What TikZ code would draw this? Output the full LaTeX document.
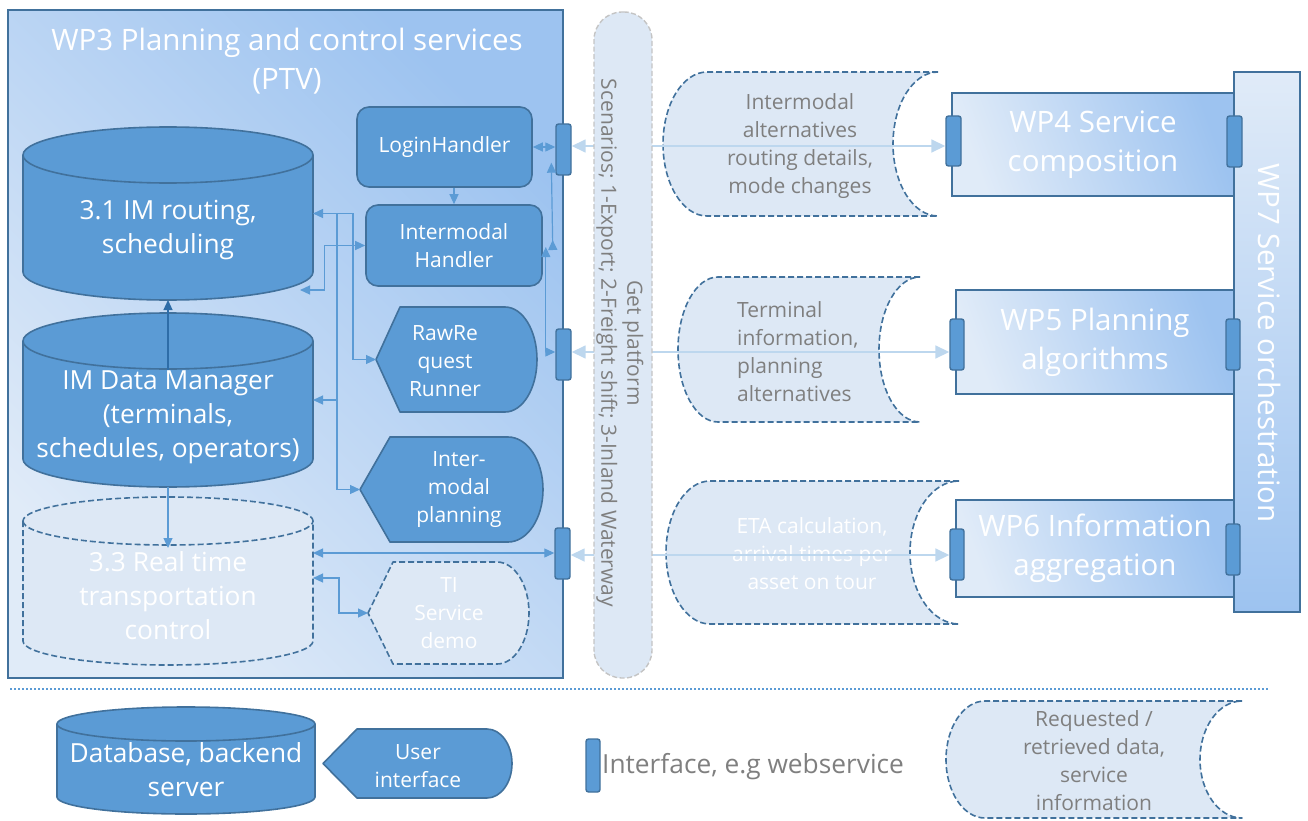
\documentclass[tikz,border=0pt]{standalone}
\usepackage{fontspec}
\setmainfont{Open Sans}
\usetikzlibrary{arrows.meta,calc}

\definecolor{edge}{HTML}{41719C}
\definecolor{body}{HTML}{5B9BD5}
\definecolor{pale}{HTML}{DDE8F5}
\definecolor{wirecol}{HTML}{5B9BD5}
\definecolor{deepwire}{HTML}{2E6DA8}
\definecolor{faint}{HTML}{BDD7EE}
\definecolor{ink}{HTML}{7F7F7F}
\definecolor{gradlo}{HTML}{E0EBF8}
\definecolor{gradhi}{HTML}{9DC3F0}
\definecolor{rim}{HTML}{C4C4C4}

\tikzset{
  anchorbox/.style={rectangle, inner sep=0pt, outer sep=0pt, draw=none},
  solidshape/.style={fill=body, draw=edge, line width=1.6pt, line join=round},
  dashshape/.style={fill=pale, draw=edge, line width=1.6pt, dash pattern=on 6pt off 3pt, line join=round},
  solidbox/.style={rectangle, fill=body, draw=edge, line width=1.6pt, rounded corners=12pt,
    text=white, align=center, inner sep=0pt, tx20},
  port/.style={rectangle, rounded corners=2.5pt, fill=body, draw=edge, line width=1.4pt,
    inner sep=0pt, minimum width=15pt, minimum height=51pt},
  wpbox/.style={rectangle, draw=edge, line width=1.6pt, inner sep=0pt, text=white, align=center, tx28},
  wire/.style={draw=wirecol, line width=1.2pt},
  faintwire/.style={draw=faint, line width=1.6pt,
    >={Triangle[length=14pt,width=13pt]}},
  whitetext/.style={text=white, align=center, inner sep=0pt},
  greytext/.style={text=ink, align=center, inner sep=0pt},
  tx20/.style={font=\fontsize{21}{28}\selectfont},
  tx25/.style={font=\fontsize{26.3}{34}\selectfont},
  tx28/.style={font=\fontsize{29.5}{39}\selectfont},
}

% cylinder: style, left x, x radius, top centre y, bottom centre y, y radius
\newcommand\cylpath[6]{%
  \path[#1] (#2,#4) -- (#2,#5) arc[start angle=180,end angle=360,x radius=#3pt,y radius=#6pt]
    -- ++(0,{#4-#5}) arc[start angle=0,end angle=180,x radius=#3pt,y radius=#6pt] -- cycle;
  \path[#1,fill=none] (#2,#4) arc[start angle=180,end angle=360,x radius=#3pt,y radius=#6pt];}

% display shape: style, tip x, corner x, arc x, top y, bottom y, x radius, y radius
\newcommand\dispath[8]{%
  \path[#1] (#2,{(#5+#6)/2}) -- (#3,#5) -- (#4,#5)
    arc[start angle=90,end angle=-90,x radius=#7pt,y radius=#8pt] -- (#3,#6) -- cycle;}

% stored data: style, left arc x, right end x, top y, bottom y, left rx, right rx, ry
\newcommand\storepath[8]{%
  \path[#1] (#3,#4) -- (#2,#4) arc[start angle=90,end angle=270,x radius=#6pt,y radius=#8pt]
    -- (#3,#5) arc[start angle=270,end angle=90,x radius=#7pt,y radius=#8pt] -- cycle;}

\begin{document}
\begin{tikzpicture}[x=1pt,y=-1pt,>={Triangle[length=10pt,width=9pt]}]
\useasboundingbox (0,0) rectangle (1308,821);

% ---------- WP3 frame ----------
\node[anchorbox, draw=edge, line width=1.8pt, minimum width=555pt, minimum height=668pt,
  left color=gradlo, right color=gradhi, shading angle=135] (wp3) at (285.5,344) {};
\node[whitetext, tx28] (wp3title) at (287,61) {WP3 Planning and control services\\(PTV)};

% ---------- databases ----------
\cylpath{solidshape}{23}{145}{155}{272}{28}
\node[anchorbox, minimum width=290pt, minimum height=173pt] (routing) at (168,213.5) {};
\node[whitetext, tx25] (routingtext) at (168,230) {3.1 IM routing,\\scheduling};

\cylpath{solidshape}{23}{145}{341}{459}{28}
\node[anchorbox, minimum width=290pt, minimum height=174pt] (datamgr) at (168,400) {};
\node[whitetext, tx25] (datamgrtext) at (168,417) {IM Data Manager\\(terminals,\\schedules, operators)};

\cylpath{dashshape}{23}{145}{521}{641}{24}
\node[anchorbox, minimum width=290pt, minimum height=172pt] (realtime) at (168,579) {};
\node[whitetext, tx25] (realtimetext) at (168,596) {3.3 Real time\\transportation\\control};

% ---------- handlers ----------
\node[solidbox, minimum width=175pt, minimum height=80pt] (login) at (444.5,147) {LoginHandler};
\node[solidbox, minimum width=176pt, minimum height=81pt] (imh) at (454,245.5) {Intermodal\\Handler};

\dispath{solidshape}{376}{400}{505}{307}{412}{32}{52.5}
\node[anchorbox, minimum width=161pt, minimum height=105pt] (raw) at (456.5,359.5) {};
\node[whitetext, tx20] (rawtext) at (445,361) {RawRe\\quest\\Runner};

\dispath{solidshape}{360}{390}{508}{437}{542}{35}{52.5}
\node[anchorbox, minimum width=183pt, minimum height=105pt] (plan) at (451.5,489.5) {};
\node[whitetext, tx20] (plantext) at (459,490) {Inter-\\modal\\planning};

\dispath{dashshape}{368}{393}{497}{562}{664}{32}{51}
\node[anchorbox, minimum width=161pt, minimum height=102pt] (ti) at (448.5,613) {};
\node[whitetext, tx20] (titext) at (449,613) {TI\\Service\\demo};

% ---------- interfaces of WP3 ----------
\node[port] (pA) at (563.5,149.5) {};
\node[port] (pB) at (563.5,354.5) {};
\node[port] (pC) at (562.5,553.5) {};

% ---------- internal connectors ----------
\draw[wire,<->] (login.east) -- (login.east -| pA.west);
\draw[wire,{Triangle[reversed,length=10pt,width=9pt]}->]
  ($(imh.east)+(10,4.5)$) -- ($(pA.south west)+(-4,-13)$);
\draw[wire,<->] ($(imh.east)+(3,1.5)$) |- ($(pB.west)+(0,-2.5)$);
\draw[wire,<->] (routing.east) -- ++(40,0) |- (raw.west);
\draw[wire,->] ($(routing.east)+(24,0)$) |- (plan.west);
\draw[wire,->] ($(datamgr.east)+(24,0)$) -- (datamgr.east);
\draw[wire,<->] ($(routing.south east)+(-13,-10)$) -| ($(imh.west)+(-41,0)$) -- (imh.west);
\draw[wire,<->] ($(realtime.east)+(0,-26)$) -- ($(pC.west)+(0,-0.5)$);
\draw[wire,<->] ($(realtime.east)+(0,-1)$) -| ($(ti.west)+(-29,0)$) -- (ti.west);
\draw[wire,draw=deepwire,->] ($(datamgr.north)+(0,57)$) -- (routing.south);
\draw[wire,->] (datamgr.south) -- ($(realtime.north)+(0,55)$);
\draw[wire,->] (imh.north |- login.south) -- (imh.north);

% ---------- exchanged data ----------
\storepath{dashshape}{707}{938}{72}{216}{44}{45}{72}
\node[greytext, tx20] (flowA) at (800,146) {Intermodal\\alternatives\\routing details,\\mode changes};
\storepath{dashshape}{718}{920}{277}{422}{40}{41}{72.5}
\node[greytext, tx20, align=left, anchor=west] (flowB) at (737,352) {Terminal\\information,\\planning\\alternatives};
\storepath{dashshape}{710}{959}{481}{624}{44}{49}{71.5}
\node[whitetext, tx20] (flowC) at (812,554) {ETA calculation,\\arrival times per\\asset on tour};

% ---------- work packages ----------
\node[wpbox, top color=gradlo, bottom color=gradhi, minimum width=66pt, minimum height=540pt] (wp7) at (1267,342) {};
\node[whitetext, tx28, rotate=-90] (wp7text) at (1270,343) {WP7 Service orchestration};
\node[wpbox, left color=gradlo, right color=gradhi, shading angle=110, minimum width=282pt, minimum height=103pt] (wp4) at (1093,144.5) {WP4 Service\\composition};
\node[wpbox, left color=gradlo, right color=gradhi, shading angle=110, minimum width=278pt, minimum height=104pt] (wp5) at (1095,342) {WP5 Planning\\algorithms};
\node[wpbox, left color=gradlo, right color=gradhi, shading angle=110, minimum width=278pt, minimum height=97pt] (wp6) at (1095,548.5) {WP6 Information\\aggregation};

\node[port, minimum height=50pt] (qA) at (953.5,141) {};
\node[port] (rA) at (1234.5,141.5) {};
\node[port, minimum width=14pt] (qB) at (957,344.5) {};
\node[port, minimum width=14pt] (rB) at (1233,344.5) {};
\node[port, minimum width=14pt] (qC) at (957,554.5) {};
\node[port, minimum width=14pt] (rC) at (1233,549.5) {};

% ---------- external links ----------
\draw[faintwire,<->] ($(pA.east)+(0,-3.5)$) coordinate (fa) -- (fa -| qA.west);
\draw[faintwire,<->] ($(pB.east)+(0,-2.5)$) coordinate (fb) -- (fb -| qB.west);
\draw[faintwire,<->] ($(pC.east)+(0,1.5)$) coordinate (fc) -- (fc -| qC.west);

% ---------- platform column (lies over the links) ----------
\node[anchorbox, fill=pale, draw=rim, line width=1.4pt, dash pattern=on 5pt off 2.5pt,
  rounded corners=28pt, minimum width=58pt, minimum height=666pt] (platform) at (623,345) {};
\node[greytext, tx20, rotate=-90] (scenarios) at (607,343)
  {Scenarios; 1-Export; 2-Freight shift; 3-Inland Waterway};
\node[greytext, tx20, rotate=-90] (getplatform) at (633,343) {Get platform};

% ---------- separator ----------
\coordinate (sepL) at (10,689);
\coordinate (sepR) at (1268,689);
\draw[draw=body, line width=1.2pt, dash pattern=on 2pt off 2pt] (sepL) -- (sepR);

% ---------- legend ----------
\cylpath{solidshape}{57}{129}{724}{797}{17}
\node[whitetext, tx25] (dblegend) at (186,770) {Database, backend\\server};
\dispath{solidshape}{323}{357}{487}{729}{798}{25}{34.5}
\node[whitetext, tx20] (uilegend) at (418,766) {User\\interface};
\node[port, minimum width=14pt, minimum height=53pt] (portlegend) at (593,765.5) {};
\node[greytext, tx25, anchor=west] (portlabel) at (602,767) {Interface, e.g webservice};
\storepath{dashshape}{985}{1242}{701}{818}{39}{42}{58.5}
\node[greytext, tx20] (datalegend) at (1094,761) {Requested /\\retrieved data,\\service\\information};

\end{tikzpicture}
\end{document}
